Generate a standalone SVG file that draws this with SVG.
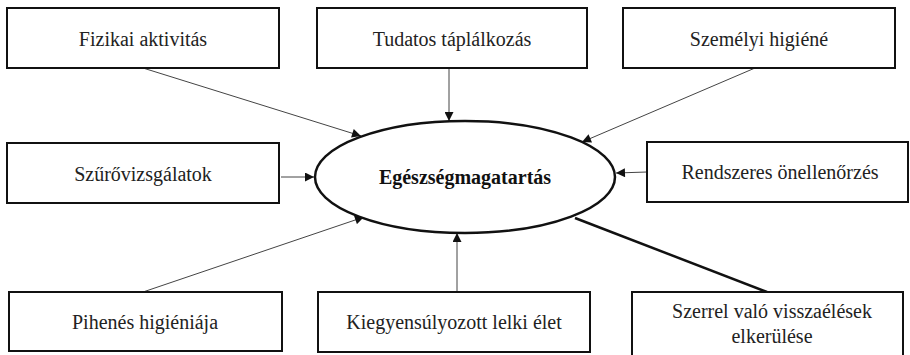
<svg xmlns="http://www.w3.org/2000/svg" width="910" height="355" viewBox="0 0 910 355">
<style>
.box{fill:#fff;stroke:#111;stroke-width:2}
.t{font-family:'Liberation Serif','DejaVu Serif',serif;font-size:20px;fill:#222;text-anchor:middle}
.b{font-weight:bold;fill:#111}
.c{stroke:#444;stroke-width:1;fill:none}
.thick{stroke:#111;stroke-width:2.5;fill:none}
</style>
<defs>
<marker id="ah" viewBox="0 0 10 10" refX="10" refY="5" markerWidth="11" markerHeight="9" markerUnits="userSpaceOnUse" orient="auto">
<path d="M0,0 L10,5 L0,10 Z" fill="#111"/>
</marker>
</defs>
<rect width="910" height="355" fill="#fff"/>
<g id="connectors">
<line class="c" x1="143" y1="68" x2="361" y2="136" marker-end="url(#ah)"/>
<line class="c" x1="449" y1="68" x2="449" y2="121" marker-end="url(#ah)"/>
<line class="c" x1="755" y1="68" x2="582" y2="142" marker-end="url(#ah)"/>
<line class="c" x1="281" y1="177" x2="314" y2="177" marker-end="url(#ah)"/>
<line class="c" x1="647" y1="172" x2="616" y2="173" marker-end="url(#ah)"/>
<line class="c" x1="143" y1="292" x2="364" y2="217" marker-end="url(#ah)"/>
<line class="c" x1="457" y1="292" x2="457" y2="233" marker-end="url(#ah)"/>
<line class="thick" x1="767" y1="292" x2="575" y2="218"/>
</g>
<g id="center">
<ellipse cx="465" cy="177" rx="150" ry="56" fill="#fff" stroke="#111" stroke-width="2.5"/>
<text class="t b" x="465" y="184" font-family="Liberation Serif, serif">Egészségmagatartás</text>
</g>
<g id="n1"><rect class="box" x="7" y="8" width="272" height="60"/><text class="t" x="143" y="46">Fizikai aktivitás</text></g>
<g id="n2"><rect class="box" x="317" y="8" width="270" height="60"/><text class="t" x="452" y="46">Tudatos táplálkozás</text></g>
<g id="n3"><rect class="box" x="623" y="8" width="272" height="60"/><text class="t" x="759" y="46">Személyi higiéné</text></g>
<g id="n4"><rect class="box" x="7" y="143" width="272" height="60"/><text class="t" x="143" y="181">Szűrővizsgálatok</text></g>
<g id="n5"><rect class="box" x="647" y="142" width="261" height="60"/><text class="t" x="780" y="179">Rendszeres önellenőrzés</text></g>
<g id="n6"><rect class="box" x="9" y="292" width="273" height="59"/><text class="t" x="145" y="329">Pihenés higiéniája</text></g>
<g id="n7"><rect class="box" x="318" y="292" width="272" height="60"/><text class="t" x="454" y="329">Kiegyensúlyozott lelki élet</text></g>
<g id="n8"><rect class="box" x="632" y="292" width="271" height="70"/><text class="t" x="772" y="318">Szerrel való visszaélések</text><text class="t" x="772" y="343">elkerülése</text></g>
</svg>
